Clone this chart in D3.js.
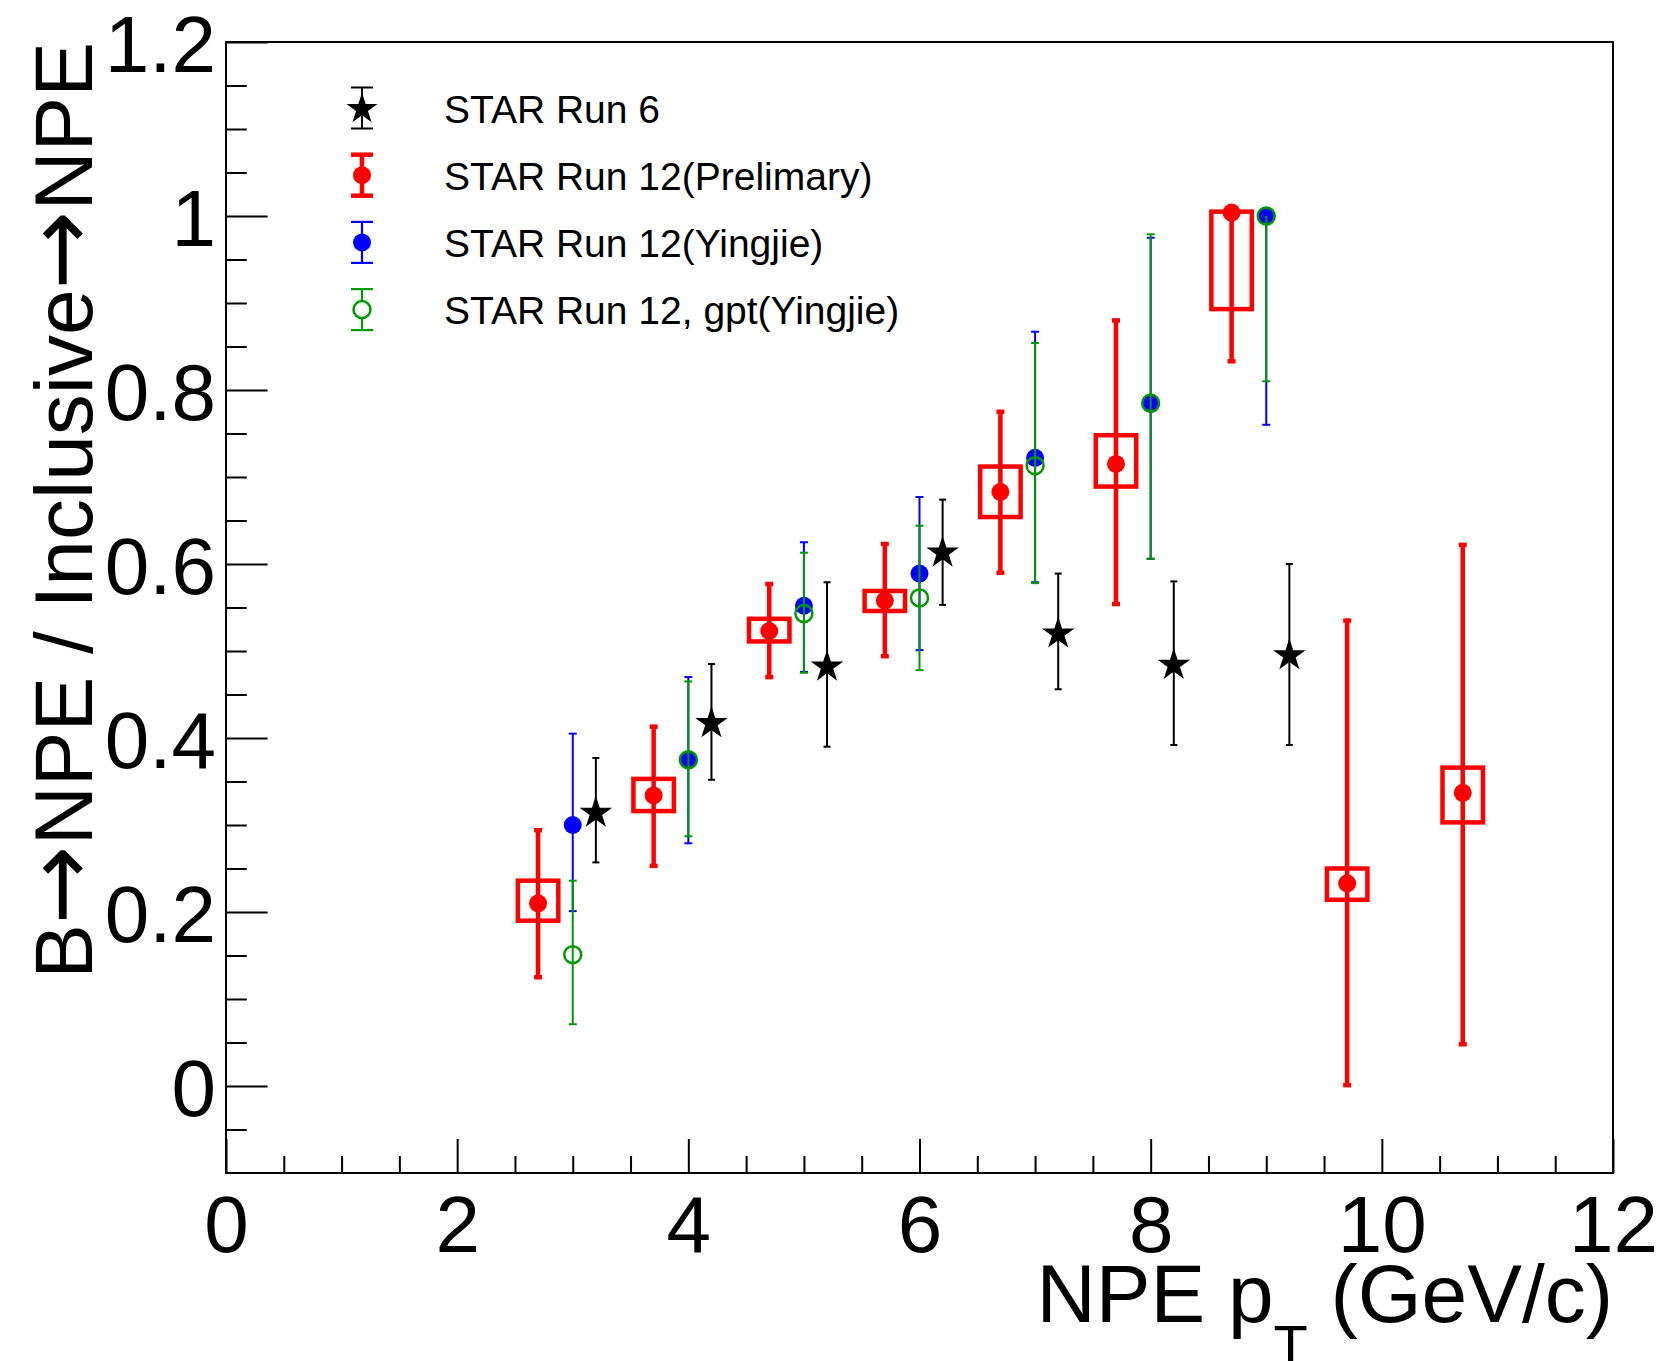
<!DOCTYPE html>
<html>
<head>
<meta charset="utf-8">
<title>B→NPE / Inclusive→NPE</title>
<script src="https://cdn.jsdelivr.net/npm/d3@7"></script>
<style>
    html, body { margin: 0; padding: 0; background: #ffffff; }
    svg { display: block; font-family: "Liberation Sans", Arial, Helvetica, sans-serif; }
</style>
</head>
<body>
<div id="chart"></div>
<script>
// ---- 数据 ----
// STAR Run 6 (黑色星号)
const run6X  = [3.2, 4.2, 5.2, 6.2, 7.2, 8.2, 9.2];
const run6Y  = [0.315, 0.418, 0.483, 0.614, 0.521, 0.485, 0.496];
const run6Hi = [0.377, 0.485, 0.579, 0.674, 0.589, 0.580, 0.600];
const run6Lo = [0.257, 0.352, 0.390, 0.553, 0.456, 0.392, 0.392];

// STAR Run 12 (Prelimary), 红色, 带系统误差框
const prelimX     = [2.7, 3.7, 4.7, 5.7, 6.7, 7.7, 8.7, 9.7, 10.7];
const prelimY     = [0.210, 0.334, 0.523, 0.558, 0.683, 0.715, 1.004, 0.233, 0.337];
const prelimHi    = [0.294, 0.413, 0.577, 0.623, 0.775, 0.880, 1.004, 0.535, 0.622];
const prelimLo    = [0.125, 0.253, 0.470, 0.494, 0.590, 0.554, 0.833, 0.001, 0.048];
const prelimSysHi = [0.236, 0.353, 0.537, 0.569, 0.712, 0.748, 1.005, 0.250, 0.366];
const prelimSysLo = [0.190, 0.316, 0.511, 0.546, 0.654, 0.689, 0.893, 0.214, 0.303];

// STAR Run 12 (Yingjie), 蓝色实心圆
const yjX  = [3, 4, 5, 6, 7, 8, 9];
const yjY  = [0.300, 0.375, 0.552, 0.589, 0.722, 0.784, 1.000];
const yjHi = [0.405, 0.470, 0.625, 0.677, 0.867, 0.975, 1.000];
const yjLo = [0.201, 0.279, 0.476, 0.501, 0.579, 0.606, 0.760];

// STAR Run 12, gpt (Yingjie), 绿色空心圆
const gptX  = [3, 4, 5, 6, 7, 8, 9];
const gptY  = [0.151, 0.375, 0.543, 0.561, 0.713, 0.785, 1.000];
const gptHi = [0.236, 0.465, 0.613, 0.644, 0.854, 0.979, 1.000];
const gptLo = [0.071, 0.287, 0.475, 0.478, 0.578, 0.606, 0.810];

// 坐标轴
const xDomain = [0, 12];
const yDomain = [-0.1, 1.2];
const xMajorTicks = [0, 2, 4, 6, 8, 10, 12];
const xMinorTicks = [0.5, 1, 1.5, 2.5, 3, 3.5, 4.5, 5, 5.5, 6.5, 7, 7.5, 8.5, 9, 9.5, 10.5, 11, 11.5];
const yMajorTicks = [0, 0.2, 0.4, 0.6, 0.8, 1, 1.2];
const yMinorTicks = [-0.05, 0.05, 0.1, 0.15, 0.25, 0.3, 0.35, 0.45, 0.5, 0.55, 0.65, 0.7, 0.75,
                     0.85, 0.9, 0.95, 1.05, 1.1, 1.15];

const legendLabels = ['STAR Run 6', 'STAR Run 12(Prelimary)', 'STAR Run 12(Yingjie)', 'STAR Run 12, gpt(Yingjie)'];

// ---- 画布 ----
const width = 1665;
const height = 1361;
const margin = { top: 42, right: 52, bottom: 188, left: 226 };

const RED = '#ff0000';
const BLUE = '#0000ff';
const GREEN = '#009a00';
const BLACK = '#000000';

const svg = d3.select('#chart')
    .append('svg')
    .attr('width', width)
    .attr('height', height)
    .attr('viewBox', `0 0 ${width} ${height}`);

svg.append('rect')
    .attr('width', width)
    .attr('height', height)
    .attr('fill', '#ffffff');

const x = d3.scaleLinear().domain(xDomain).range([margin.left, width - margin.right]);
const y = d3.scaleLinear().domain(yDomain).range([height - margin.bottom, margin.top]);

const plotW = x.range()[1] - x.range()[0];
const plotH = y.range()[0] - y.range()[1];

// ROOT 风格刻度: 长度为另一轴长度的 3%
const xTickLen = 0.03 * plotH;
const yTickLen = 0.03 * plotW;

function styleAxis(g, fontSize) {
    g.select('.domain').remove();
    g.attr('font-family', null).attr('font-size', null);
    g.selectAll('line').attr('stroke', BLACK).attr('stroke-width', 2);
    g.selectAll('text')
        .attr('fill', BLACK)
        .style('font-size', fontSize + 'px');
}

// x 轴
svg.append('g')
    .attr('transform', `translate(0,${y.range()[0]})`)
    .call(d3.axisBottom(x).tickValues(xMinorTicks).tickSize(-xTickLen / 2).tickFormat(''))
    .call(g => styleAxis(g, 10));

svg.append('g')
    .attr('transform', `translate(0,${y.range()[0]})`)
    .call(d3.axisBottom(x).tickValues(xMajorTicks).tickSize(-xTickLen).tickPadding(22).tickFormat(d3.format('d')))
    .call(g => styleAxis(g, 80));

// y 轴
svg.append('g')
    .attr('transform', `translate(${x.range()[0]},0)`)
    .call(d3.axisLeft(y).tickValues(yMinorTicks).tickSize(-yTickLen / 2).tickFormat(''))
    .call(g => styleAxis(g, 10));

svg.append('g')
    .attr('transform', `translate(${x.range()[0]},0)`)
    .call(d3.axisLeft(y).tickValues(yMajorTicks).tickSize(-yTickLen).tickPadding(10).tickFormat(d3.format('~g')))
    .call(g => styleAxis(g, 80))
    .call(g => g.selectAll('text').attr('dy', '0.37em'));

// 边框
svg.append('rect')
    .attr('x', x.range()[0])
    .attr('y', y.range()[1])
    .attr('width', plotW)
    .attr('height', plotH)
    .attr('fill', 'none')
    .attr('stroke', BLACK)
    .attr('stroke-width', 2);

// 轴标题
const xTitle = svg.append('text')
    .attr('x', x.range()[1])
    .attr('y', 1322)
    .attr('text-anchor', 'end')
    .attr('fill', BLACK)
    .style('font-size', '82px');
xTitle.append('tspan').text('NPE p');
xTitle.append('tspan').attr('dy', 42).style('font-size', '56px').text('T');
xTitle.append('tspan').attr('dy', -42).text(' (GeV/c)');

// 箭头使用 DejaVu Sans, 更接近 ROOT 的 #rightarrow
const yTitle = svg.append('text')
    .attr('transform', `translate(92,${y.range()[1]}) rotate(-90)`)
    .attr('text-anchor', 'end')
    .attr('fill', BLACK)
    .style('font-size', '82px');
const arrowSpan = t => t.append('tspan')
    .style('font-family', '"DejaVu Sans", sans-serif')
    .style('font-size', '94px')
    .text('\u2192');
yTitle.append('tspan').text('B');
arrowSpan(yTitle);
yTitle.append('tspan').text('NPE / Inclusive');
arrowSpan(yTitle);
yTitle.append('tspan').text('NPE');

// ---- 数据点 ----
const plot = svg.append('g');

function zipSeries(xs, ys, lo, hi) {
    return xs.map((xv, i) => ({ x: xv, y: ys[i], lo: lo[i], hi: hi[i] }));
}

function drawErrorBars(g, data, color, lineWidth, capWidth) {
    const bars = g.append('g').selectAll('g')
        .data(data)
        .enter()
        .append('g')
        .attr('stroke', color)
        .attr('stroke-width', lineWidth);

    bars.append('line')
        .attr('x1', d => x(d.x)).attr('x2', d => x(d.x))
        .attr('y1', d => y(d.hi)).attr('y2', d => y(d.lo));

    bars.filter(d => d.hi > d.y).append('line')
        .attr('x1', d => x(d.x) - capWidth / 2).attr('x2', d => x(d.x) + capWidth / 2)
        .attr('y1', d => y(d.hi)).attr('y2', d => y(d.hi));

    bars.append('line')
        .attr('x1', d => x(d.x) - capWidth / 2).attr('x2', d => x(d.x) + capWidth / 2)
        .attr('y1', d => y(d.lo)).attr('y2', d => y(d.lo));
}

// 红色系统误差框
const boxHalf = 0.175;
plot.append('g').selectAll('rect')
    .data(prelimX.map((xv, i) => ({ x: xv, lo: prelimSysLo[i], hi: prelimSysHi[i] })))
    .enter()
    .append('rect')
    .attr('x', d => x(d.x - boxHalf))
    .attr('width', d => x(d.x + boxHalf) - x(d.x - boxHalf))
    .attr('y', d => y(d.hi))
    .attr('height', d => y(d.lo) - y(d.hi))
    .attr('fill', 'none')
    .attr('stroke', RED)
    .attr('stroke-width', 4.5);

// 红色
const prelimData = zipSeries(prelimX, prelimY, prelimLo, prelimHi);
drawErrorBars(plot, prelimData, RED, 4.5, 8);
plot.append('g').selectAll('circle')
    .data(prelimData)
    .enter()
    .append('circle')
    .attr('cx', d => x(d.x)).attr('cy', d => y(d.y))
    .attr('r', 9)
    .attr('fill', RED);

// 蓝色
const yjData = zipSeries(yjX, yjY, yjLo, yjHi);
drawErrorBars(plot, yjData, BLUE, 2, 8);
plot.append('g').selectAll('circle')
    .data(yjData)
    .enter()
    .append('circle')
    .attr('cx', d => x(d.x)).attr('cy', d => y(d.y))
    .attr('r', 9)
    .attr('fill', BLUE);

// 绿色
const gptData = zipSeries(gptX, gptY, gptLo, gptHi);
drawErrorBars(plot, gptData, GREEN, 2, 8);
plot.append('g').selectAll('circle')
    .data(gptData)
    .enter()
    .append('circle')
    .attr('cx', d => x(d.x)).attr('cy', d => y(d.y))
    .attr('r', 8.5)
    .attr('fill', 'none')
    .attr('stroke', GREEN)
    .attr('stroke-width', 2.5);

// 黑色星号
const starPath = d3.symbol().type(d3.symbolStar).size(330);
const run6Data = zipSeries(run6X, run6Y, run6Lo, run6Hi);
drawErrorBars(plot, run6Data, BLACK, 2, 7);
plot.append('g').selectAll('path')
    .data(run6Data)
    .enter()
    .append('path')
    .attr('transform', d => `translate(${x(d.x)},${y(d.y) + 1})`)
    .attr('d', starPath)
    .attr('fill', BLACK);

// ---- 图例 ----
const legend = svg.append('g').attr('transform', 'translate(362,108)');
const rowGap = 67.2;
const legendStyles = [
    { color: BLACK, lw: 2, marker: 'star' },
    { color: RED, lw: 4.5, marker: 'dot' },
    { color: BLUE, lw: 2.2, marker: 'dot' },
    { color: GREEN, lw: 2.2, marker: 'open' }
];

legendLabels.forEach((label, i) => {
    const st = legendStyles[i];
    const row = legend.append('g').attr('transform', `translate(0,${i * rowGap})`);
    row.append('line').attr('x1', 0).attr('x2', 0).attr('y1', -20.5).attr('y2', 20.5)
        .attr('stroke', st.color).attr('stroke-width', st.lw);
    [-20.5, 20.5].forEach(cy => {
        row.append('line').attr('x1', -11).attr('x2', 11).attr('y1', cy).attr('y2', cy)
            .attr('stroke', st.color).attr('stroke-width', st.lw);
    });
    if (st.marker === 'star') {
        row.append('path').attr('d', d3.symbol().type(d3.symbolStar).size(300))
            .attr('transform', 'translate(0,1)').attr('fill', BLACK);
    } else if (st.marker === 'dot') {
        row.append('circle').attr('r', 9).attr('fill', st.color);
    } else {
        row.append('circle').attr('r', 8.5).attr('fill', '#ffffff')
            .attr('stroke', st.color).attr('stroke-width', 2.5);
    }
    row.append('text')
        .attr('x', 82)
        .attr('y', 14.5)
        .attr('fill', BLACK)
        .style('font-size', '39px')
        .text(label);
});
</script>
</body>
</html>
